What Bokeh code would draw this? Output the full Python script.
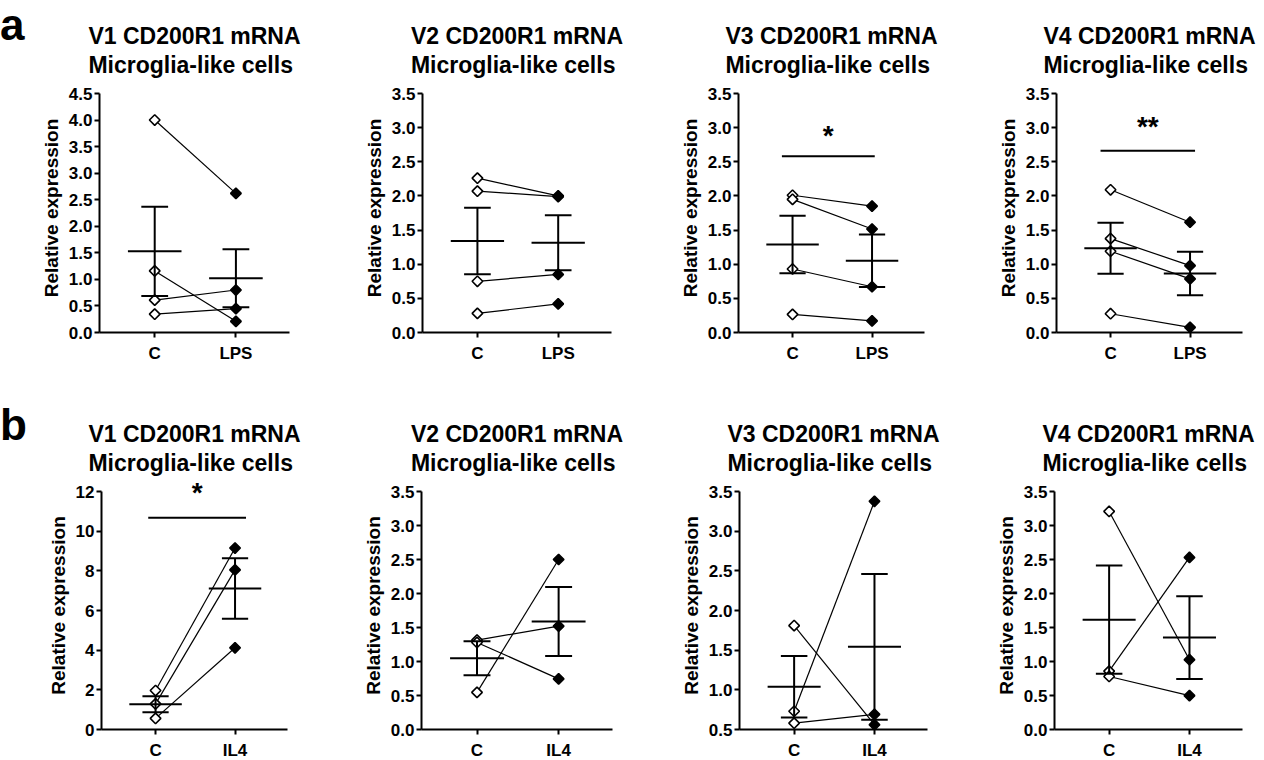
import numpy as np
from bokeh.plotting import figure
from bokeh.layouts import row, column
from bokeh.models import Label, FixedTicker, NumeralTickFormatter, Range1d, Div
from bokeh.embed import file_html
from bokeh.resources import INLINE

# ---------------- data ----------------
title_line1 = ["V1 CD200R1 mRNA", "V2 CD200R1 mRNA", "V3 CD200R1 mRNA", "V4 CD200R1 mRNA"]
title_line2 = "Microglia-like cells"
y_label = "Relative expression"
cats_a = ["C", "LPS"]
cats_b = ["C", "IL4"]

# row a: control vs LPS (paired, same order)
a1_ctrl = [4.00, 1.16, 0.61, 0.345]
a1_trt = [2.62, 0.21, 0.80, 0.45]
a2_ctrl = [2.26, 2.07, 0.75, 0.28]
a2_trt = [2.00, 1.99, 0.85, 0.42]
a3_ctrl = [2.01, 1.95, 0.93, 0.265]
a3_trt = [1.85, 1.515, 0.67, 0.17]
a4_ctrl = [2.09, 1.375, 1.19, 0.275]
a4_trt = [1.615, 0.98, 0.785, 0.075]

# row b: control vs IL4 (paired, same order)
b1_ctrl = [1.966, 1.29, 0.56]
b1_trt = [9.15, 8.05, 4.12]
b2_ctrl = [0.546, 1.315, 1.28]
b2_trt = [2.50, 1.52, 0.745]
b3_ctrl = [1.81, 0.73, 0.58]
b3_trt = [0.56, 3.377, 0.69]
b4_ctrl = [3.207, 0.858, 0.78]
b4_trt = [1.026, 2.53, 0.498]

# significance marks: (y level, x start, x end, text, star baseline y)
a3_sig = (2.58, -0.134, 1.034, "*", 2.88)
a4_sig = (2.66, -0.126, 1.063, "**", 3.02)
b1_sig = (10.68, -0.092, 1.138, "*", 11.93)

FONT = "Liberation Sans"
HEAD = 10  # px of head-room above the axis top inside the frame


def make_panel(ctrl, trt, cats, t1, yr, ticks, fmt, geom, row_id, sig=None):
    left, fw, right = geom
    if row_id == "a":
        top, ah, bottom = 93, 239, 45
    else:
        top, ah, bottom = 114, 238, 28
    y0, y1 = yr
    y_end = y1 + HEAD * (y1 - y0) / ah
    p = figure(frame_width=fw, frame_height=ah + HEAD, min_border_left=left,
               min_border_right=right, min_border_top=top - HEAD, min_border_bottom=bottom,
               x_range=Range1d(-0.68, 1.66), y_range=Range1d(y0, y_end),
               output_backend="svg", toolbar_location=None, tools="",
               title=t1 + "\n" + title_line2)
    p.outline_line_color = None
    p.xgrid.visible = False
    p.ygrid.visible = False
    p.background_fill_color = "white"
    p.border_fill_color = "white"

    p.title.align = "center"
    p.title.text_font = FONT
    p.title.text_font_style = "bold"
    p.title.text_font_size = "23px"
    p.title.text_line_height = 1.15
    p.title.text_color = "black"
    p.title.standoff = 10

    # axes
    p.yaxis.ticker = FixedTicker(ticks=ticks)
    p.yaxis.formatter = NumeralTickFormatter(format=fmt)
    p.yaxis.bounds = (y0, y1)
    p.xaxis.ticker = FixedTicker(ticks=[0, 1])
    p.xaxis.major_label_overrides = {0: cats[0], 1: cats[1]}
    for ax in (p.xaxis[0], p.yaxis[0]):
        ax.axis_line_width = 2
        ax.axis_line_color = "black"
        ax.major_tick_line_width = 2
        ax.major_tick_line_color = "black"
        ax.major_tick_out = 5
        ax.major_tick_in = 0
        ax.minor_tick_line_color = None
        ax.major_label_text_font = FONT
        ax.major_label_text_font_style = "bold"
        ax.major_label_text_font_size = "17px"
        ax.major_label_text_color = "black"
    p.yaxis.major_label_standoff = 2
    p.xaxis.major_label_standoff = 6
    p.yaxis.axis_label = y_label
    p.yaxis.axis_label_text_font = FONT
    p.yaxis.axis_label_text_font_style = "bold"
    p.yaxis.axis_label_text_font_size = "19px"
    p.yaxis.axis_label_text_color = "black"
    p.yaxis.axis_label_standoff = 4

    n = len(ctrl)
    xc = [0.0] * n
    xt = [1.0] * n
    # paired lines
    p.segment(x0=xc, y0=ctrl, x1=xt, y1=trt, line_color="black", line_width=1.2)
    # markers
    p.scatter(xc, ctrl, marker="square", angle=np.pi / 4, size=7.5,
              fill_color="white", line_color="black", line_width=1.6)
    p.scatter(xt, trt, marker="square", angle=np.pi / 4, size=7.5,
              fill_color="black", line_color="black", line_width=1.6)

    # mean +/- SEM
    means, los, his = [], [], []
    for vals in (ctrl, trt):
        v = np.array(vals, dtype=float)
        m = v.mean()
        s = v.std(ddof=1) / np.sqrt(len(v))
        means.append(m)
        los.append(m - s)
        his.append(m + s)
    xs = [0.0, 1.0]
    mw, cw = 0.33, 0.165
    p.segment(x0=[x - mw for x in xs], y0=means, x1=[x + mw for x in xs], y1=means,
              line_color="black", line_width=2)
    p.segment(x0=xs, y0=los, x1=xs, y1=his, line_color="black", line_width=2)
    p.segment(x0=[x - cw for x in xs], y0=his, x1=[x + cw for x in xs], y1=his,
              line_color="black", line_width=2)
    p.segment(x0=[x - cw for x in xs], y0=los, x1=[x + cw for x in xs], y1=los,
              line_color="black", line_width=2)

    if sig is not None:
        yl, xs0, xs1, txt, ty = sig
        p.segment(x0=[xs0], y0=[yl], x1=[xs1], y1=[yl], line_color="black", line_width=2)
        p.add_layout(Label(x=(xs0 + xs1) / 2, y=ty, text=txt, text_align="center",
                           text_baseline="alphabetic", text_font=FONT,
                           text_font_style="bold", text_font_size="28px", text_color="black"))
    return p


def letter_div(txt, pad, h):
    return Div(text=txt, width=28, height=h, margin=0,
               styles={"font-family": FONT, "font-size": "44px", "font-weight": "bold",
                       "line-height": "50px", "padding-top": f"{pad}px", "color": "black",
                       "box-sizing": "border-box"})


t35 = [0, 0.5, 1.0, 1.5, 2.0, 2.5, 3.0, 3.5]
t45 = [0, 0.5, 1.0, 1.5, 2.0, 2.5, 3.0, 3.5, 4.0, 4.5]
t12 = [0, 2, 4, 6, 8, 10, 12]
t35b = [0.5, 1.0, 1.5, 2.0, 2.5, 3.0, 3.5]

pa1 = make_panel(a1_ctrl, a1_trt, cats_a, title_line1[0], (0, 4.5), t45, "0.0", (71, 190, 35), "a")
pa2 = make_panel(a2_ctrl, a2_trt, cats_a, title_line1[1], (0, 3.5), t35, "0.0", (98, 189, 33), "a")
pa3 = make_panel(a3_ctrl, a3_trt, cats_a, title_line1[2], (0, 3.5), t35, "0.0", (94, 186, 40), "a", sig=a3_sig)
pa4 = make_panel(a4_ctrl, a4_trt, cats_a, title_line1[3], (0, 3.5), t35, "0.0", (92, 186, 16), "a", sig=a4_sig)

pb1 = make_panel(b1_ctrl, b1_trt, cats_b, title_line1[0], (0, 12), t12, "0", (73, 186, 37), "b", sig=b1_sig)
pb2 = make_panel(b2_ctrl, b2_trt, cats_b, title_line1[1], (0, 3.5), t35, "0.0", (97, 191, 32), "b")
pb3 = make_panel(b3_ctrl, b3_trt, cats_b, title_line1[2], (0.5, 3.5), t35b, "0.0", (95, 188, 37), "b")
pb4 = make_panel(b4_ctrl, b4_trt, cats_b, title_line1[3], (0, 3.5), t35, "0.0", (90, 188, 16), "b")

div_a = letter_div("a", 0, 377)
div_b = letter_div("b", 23, 380)

layout = column(row(div_a, pa1, pa2, pa3, pa4), row(div_b, pb1, pb2, pb3, pb4))

with open("out.html", "w") as f:
    f.write(file_html(layout, INLINE))
